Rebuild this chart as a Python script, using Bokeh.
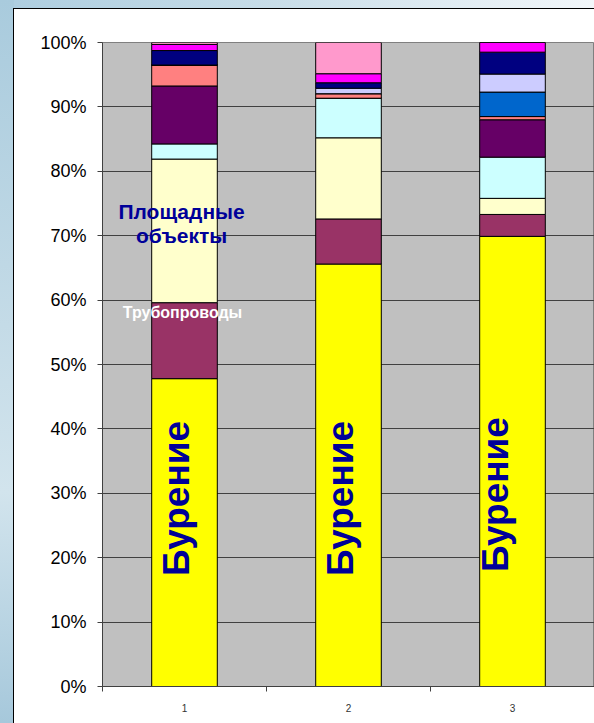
from math import pi

from bokeh.core.properties import value
from bokeh.embed import file_html
from bokeh.layouts import column, row
from bokeh.models import (ColumnDataSource, FixedTicker, PrintfTickFormatter,
                          Range1d, Spacer)
from bokeh.plotting import figure
from bokeh.resources import INLINE

# --- data: share of each cost item per project, percent of total ---
categories = [1, 2, 3]
burenie = [47.8, 65.6, 69.9]            # Бурение
truboprovody = [11.8, 7.0, 3.4]         # Трубопроводы
ploshchadnye = [22.3, 12.6, 2.5]        # Площадные объекты
series_4 = [2.35, 6.15, 6.4]
series_5 = [9.0, 0.0, 5.8]
series_6 = [3.25, 0.7, 0.5]
series_7 = [0.0, 0.0, 3.8]
series_8 = [0.0, 0.85, 2.8]
series_9 = [2.25, 0.85, 3.4]
series_10 = [0.95, 1.4, 1.5]
series_11 = [0.3, 4.85, 0.0]
tick_labels = ["1", "2", "3"]

stack_names = ["burenie", "truboprovody", "ploshchadnye", "s4", "s5", "s6",
               "s7", "s8", "s9", "s10", "s11"]
stack_values = [burenie, truboprovody, ploshchadnye, series_4, series_5,
                series_6, series_7, series_8, series_9, series_10, series_11]
stack_colors = ["#FFFF00", "#993366", "#FFFFCC", "#CCFFFF", "#660066",
                "#FF8080", "#0066CC", "#CCCCFF", "#000080", "#FF00FF",
                "#FF99CC"]

data = {"x": categories}
for name, vals in zip(stack_names, stack_values):
    data[name] = vals
source = ColumnDataSource(data)

FONT = "Liberation Sans"

p = figure(width=580, height=714,
           x_range=Range1d(0.5, 3.5), y_range=Range1d(0, 100),
           output_backend="svg", toolbar_location=None,
           min_border_left=88, min_border_right=0,
           min_border_top=33, min_border_bottom=37,
           background_fill_color="#C0C0C0", border_fill_color="white",
           outline_line_color="#808080")

p.vbar_stack(stack_names, x="x", width=0.4, source=source,
             fill_color=stack_colors, line_color="black", line_width=1)

# y axis: 0% .. 100%
p.yaxis.ticker = FixedTicker(ticks=list(range(0, 101, 10)))
p.yaxis.formatter = PrintfTickFormatter(format="%d%%")
p.yaxis.major_label_text_font = FONT
p.yaxis.major_label_text_font_size = "18px"
p.yaxis.major_label_text_color = "black"
p.yaxis.major_tick_out = 5
p.yaxis.major_tick_in = 0
p.yaxis.minor_tick_line_color = None
p.yaxis.major_label_standoff = 11
p.yaxis.axis_line_color = "#404040"
p.yaxis.major_tick_line_color = "#404040"

# x axis: category numbers, ticks at category boundaries
p.xaxis.ticker = FixedTicker(ticks=categories,
                             minor_ticks=[0.5, 1.5, 2.5, 3.5])
p.xaxis.major_label_overrides = {c: t for c, t in zip(categories, tick_labels)}
p.xaxis.major_tick_line_color = None
p.xaxis.major_tick_out = 0
p.xaxis.major_tick_in = 0
p.xaxis.minor_tick_out = 5
p.xaxis.minor_tick_in = 0
p.xaxis.minor_tick_line_color = "#404040"
p.xaxis.axis_line_color = "#404040"
p.xaxis.major_label_text_font = FONT
p.xaxis.major_label_text_font_size = "10px"
p.xaxis.major_label_text_color = "#333333"
p.xaxis.major_label_standoff = 12

p.xgrid.grid_line_color = None
p.ygrid.grid_line_color = "#404040"
p.ygrid.grid_line_width = 1

# in-bar captions
bur_x = [0.951, 1.951, 2.897]
bur_y = [29.2, 29.2, 29.8]
p.text(x=bur_x, y=bur_y, text=["Бурение"] * 3, angle=pi / 2,
       text_font=value(FONT), text_font_style="bold",
       text_font_size="37px", text_color="#000099",
       text_align="center", text_baseline="middle")

p.text(x=[0.982, 0.982], y=[73.8, 70.1], text=["Площадные", "объекты"],
       text_font=value(FONT), text_font_style="bold",
       text_font_size="21px", text_color="#000099",
       text_align="center", text_baseline="alphabetic")

p.text(x=[0.988], y=[58.0], text=["Трубопроводы"],
       text_font=value(FONT), text_font_style="bold",
       text_font_size="16px", text_color="white",
       text_align="center", text_baseline="alphabetic")

# slide background around the chart area
left_strip = Spacer(width=14, height=723, styles={
    "background": ("linear-gradient(#000, #000) right 0 top 8px / 1px 100% no-repeat, "
                   "linear-gradient(to bottom, #a9cbdd 0%, #c4dbe7 45%, "
                   "#d2e4ed 68%, #a6c8db 100%)")})
top_strip = Spacer(width=580, height=9, styles={
    "background": ("linear-gradient(#000, #000) left 0 bottom 0 / 100% 1px no-repeat, "
                   "linear-gradient(to right, #aecee0 0%, #c8dde8 45%, "
                   "#e4eef4 80%, #f2f7fa 100%)")})

layout = row(left_strip, column(top_strip, p, spacing=0), spacing=0)

open("out.html", "w").write(file_html(layout, INLINE))
